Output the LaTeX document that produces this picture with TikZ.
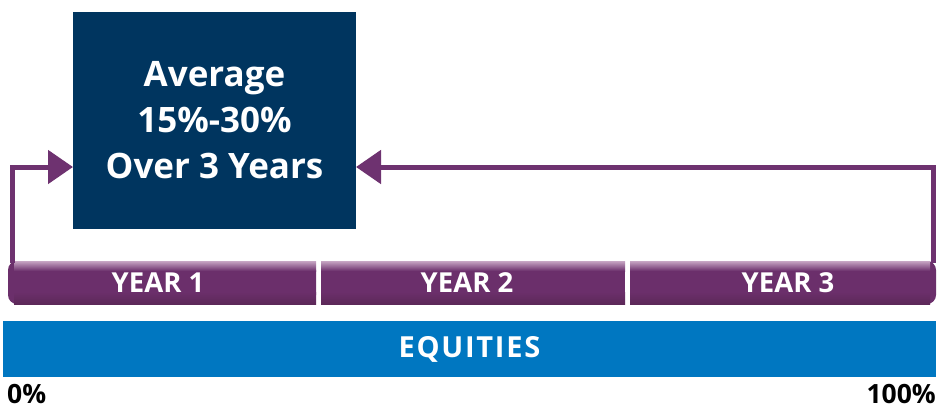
\documentclass[tikz,border=0pt]{standalone}
\usepackage{fontspec}
\setmainfont{Open Sans}
\usetikzlibrary{arrows.meta,calc}
\definecolor{navy}{HTML}{00355F}
\definecolor{plum}{HTML}{6B2F6B}
\definecolor{plumlight}{HTML}{C7A6C4}
\definecolor{plumdark}{HTML}{5C2858}
\definecolor{eqblue}{HTML}{0077C1}
\definecolor{arrowplum}{HTML}{6E3270}
\tikzset{
  yearlabel/.style={text=white,font=\fontsize{27.5}{32}\selectfont\bfseries,inner sep=0pt},
  pctlabel/.style={inner sep=0pt,font=\fontsize{26.5}{32}\selectfont\bfseries},
  connector/.style={draw=arrowplum,line width=5pt,-{Triangle[length=25pt,width=33pt]}},
}
\begin{document}
\begin{tikzpicture}[x=1pt,y=-1pt]
\useasboundingbox (0,0) rectangle (938,410);
% average box
\node[fill=navy,minimum width=283pt,minimum height=217pt,inner sep=0pt,
      text=white,align=center,
      font=\fontsize{35}{46}\selectfont\bfseries] (avg) at (214.5,120.5)
      {Average\\15\%-30\%\\Over 3 Years};
% year bars
\fill[plum,rounded corners=9pt] (8,261) rectangle (316,304);
\fill[plum] (200,261) rectangle (316,304);
\fill[plum] (321,261) rectangle (625,304);
\fill[plum,rounded corners=9pt] (630,261) rectangle (936,304);
\fill[plum] (630,261) rectangle (700,304);
\shade[top color=plumlight,bottom color=plum] (14,261) rectangle (316,271);
\shade[top color=plumlight,bottom color=plum] (321,261) rectangle (625,271);
\shade[top color=plumlight,bottom color=plum] (630,261) rectangle (930,271);
\shade[top color=plum,bottom color=plumdark] (14,292) rectangle (316,304);
\shade[top color=plum,bottom color=plumdark] (321,292) rectangle (625,304);
\shade[top color=plum,bottom color=plumdark] (630,292) rectangle (930,304);
\node[yearlabel] (y1) at (158,283) {YEAR 1};
\node[yearlabel] (y2) at (467,283) {YEAR 2};
\node[yearlabel] (y3) at (788,283) {YEAR 3};
% equities
\node[fill=eqblue,minimum width=933pt,minimum height=56pt,inner sep=0pt,
      text=white,font=\fontsize{29}{32}\selectfont\bfseries\addfontfeature{LetterSpace=6}] (eq) at (469.5,349) {EQUITIES};
\node[pctlabel,anchor=base west] (p0) at (7,403) {0\%};
\node[pctlabel,anchor=base east] (p100) at (936,403) {100\%};
% connectors
\coordinate (ls) at (12,263);
\coordinate (lt) at (73,167);
\coordinate (rs) at (933,263);
\coordinate (rt) at (356,167);
\draw[connector] (ls) |- (lt);
\draw[connector] (rs) |- (rt);
\end{tikzpicture}
\end{document}
